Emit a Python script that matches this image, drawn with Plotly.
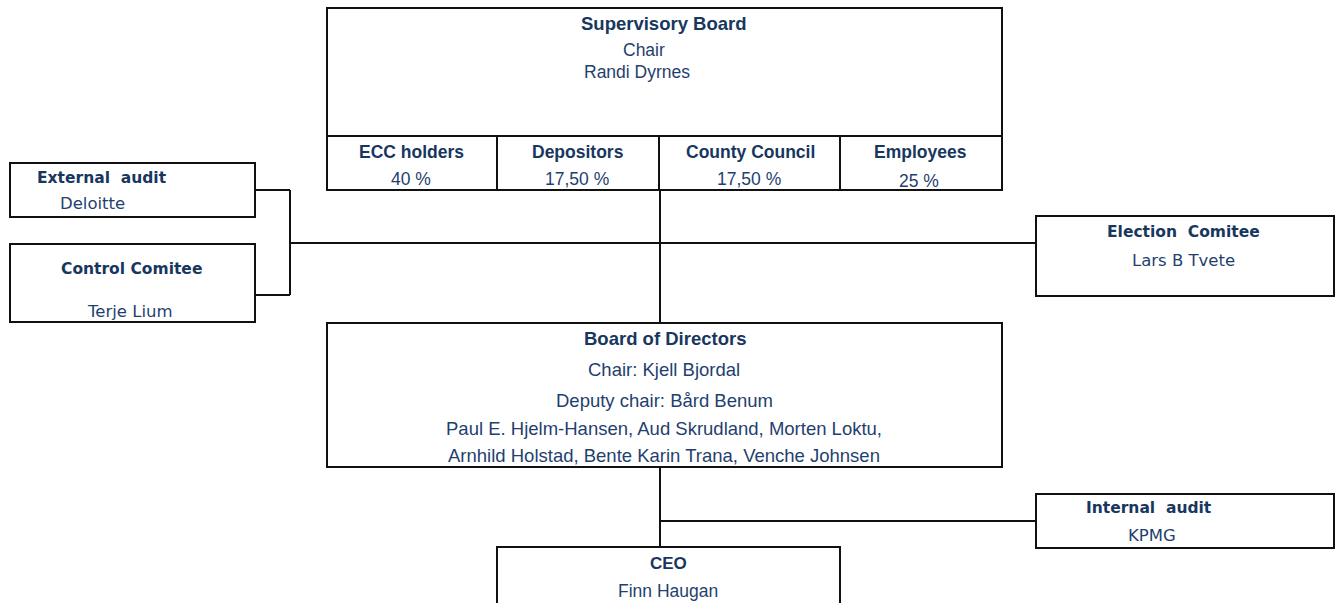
import plotly.graph_objects as go

# ---- data (texts of the organisation chart) ----
sup_title = "Supervisory Board"
sup_lines = ["Chair", "Randi Dyrnes"]
groups = ["ECC holders", "Depositors", "County Council", "Employees"]
shares = ["40 %", "17,50 %", "17,50 %", "25 %"]
bod_title = "Board of Directors"
bod_lines = ["Chair: Kjell Bjordal", "Deputy chair: Bård Benum",
             "Paul E. Hjelm-Hansen, Aud Skrudland, Morten Loktu,",
             "Arnhild Holstad, Bente Karin Trana, Venche Johnsen"]
ceo_title, ceo_name = "CEO", "Finn Haugan"
ext_title, ext_name = "External  audit", "Deloitte"
ctl_title, ctl_name = "Control Comitee", "Terje Lium"
ele_title, ele_name = "Election  Comitee", "Lars B Tvete"
int_title, int_name = "Internal  audit", "KPMG"

W, H = 1339, 603
BOLD = "#17375E"
REG = "#1F3F6F"
LC = "#111111"
FONT = "Liberation Sans, Arial, sans-serif"
SIDE = "DejaVu Sans, Verdana, sans-serif"

fig = go.Figure()
shapes = []
ann = []

def rect(x0, y0, x1, y1):
    shapes.append(dict(type="rect", x0=x0, y0=y0, x1=x1, y1=y1,
                       line=dict(color=LC, width=2), fillcolor="rgba(0,0,0,0)", layer="above"))

def line(x0, y0, x1, y1):
    shapes.append(dict(type="line", x0=x0, y0=y0, x1=x1, y1=y1,
                       line=dict(color=LC, width=2), layer="above"))

def text(x, y, s, size, bold=False, family=FONT):
    ann.append(dict(x=x, y=y, text=("<b>%s</b>" % s) if bold else s, showarrow=False,
                    xanchor="center", yanchor="middle",
                    font=dict(family=family, size=size, color=BOLD if bold else REG)))

# Supervisory board
rect(327, 8, 1002, 190)
line(327, 136, 1002, 136)
col_edges = [327, 497, 659, 840, 1002]
for xe in col_edges[1:-1]:
    line(xe, 136, xe, 190)
text(664, 23, sup_title, 18.5, True)
text(644, 50, sup_lines[0], 17.5)
text(637, 72, sup_lines[1], 17.5)
hdr_x = [411, 578, 750, 920]
pct_x = [411, 577, 749, 919]
pct_y = [179, 179, 179, 181]
for g, s, hx, px, py in zip(groups, shares, hdr_x, pct_x, pct_y):
    text(hx, 152, g, 17.5, True)
    text(px, py, s, 17.5)

# connectors
line(660, 190, 660, 323)
line(290, 243, 1036, 243)
line(290, 190, 290, 295)
line(255, 190, 290, 190)
line(255, 295, 290, 295)

# left boxes
rect(10, 163, 255, 217)
text(102, 178, ext_title, 15.5, True, SIDE)
text(92, 203, ext_name, 16.5, False, SIDE)
rect(10, 244, 255, 322)
text(131, 269, ctl_title, 15.5, True, SIDE)
text(130, 311, ctl_name, 16.5, False, SIDE)

# election committee
rect(1036, 216, 1334, 296)
text(1183, 232, ele_title, 15.5, True, SIDE)
text(1183, 260, ele_name, 16.5, False, SIDE)

# Board of directors
rect(327, 323, 1002, 467)
text(665, 338, bod_title, 18.5, True)
bod_y = [369, 400, 428, 455]
for s, yy in zip(bod_lines, bod_y):
    text(664, yy, s, 18.5)

# lower connectors
line(660, 467, 660, 547)
line(660, 521, 1036, 521)

# internal audit
rect(1036, 494, 1334, 548)
text(1149, 508, int_title, 15.5, True, SIDE)
text(1152, 535, int_name, 16.5, False, SIDE)

# CEO
rect(497, 547, 840, 640)
text(668, 563, ceo_title, 17, True)
text(668, 591, ceo_name, 17.5)

fig.update_layout(
    width=W, height=H, margin=dict(l=0, r=0, t=0, b=0),
    paper_bgcolor="white", plot_bgcolor="white",
    xaxis=dict(range=[0, W], visible=False, fixedrange=True),
    yaxis=dict(range=[H, 0], visible=False, fixedrange=True),
    shapes=shapes, annotations=ann, showlegend=False,
)
fig.write_html(
    "out.html",
    config={"displayModeBar": False},
    post_script="document.body.style.margin='0';document.body.style.overflow='hidden';",
)
